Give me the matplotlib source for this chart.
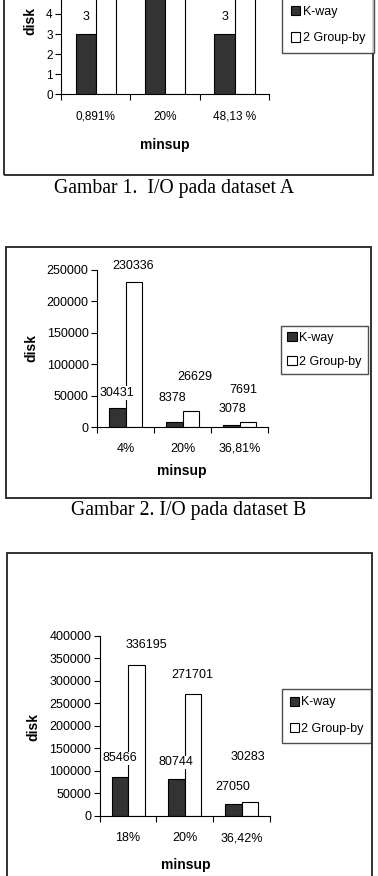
import matplotlib.pyplot as plt
from matplotlib.patches import Rectangle, Patch

plt.rcParams['font.family'] = ['Liberation Sans', 'DejaVu Sans']

# data
series = ['K-way', '2 Group-by']

cats_a = ['0,891%', '20%', '48,13 %']
kway_a = [3, 5, 3]
group_a = [6, 6, 6]          # tops are cut off in the scan

cats_b = ['4%', '20%', '36,81%']
kway_b = [30431, 8378, 3078]
group_b = [230336, 26629, 7691]

cats_c = ['18%', '20%', '36,42%']
kway_c = [85466, 80744, 27050]
group_c = [336195, 271701, 30283]

W, H = 378, 876
fig = plt.figure(figsize=(W / 100, H / 100), dpi=100)


def px_axes(left, top, right, bottom):
    return fig.add_axes([left / W, 1 - bottom / H, (right - left) / W, (bottom - top) / H])


def fx(x):
    return x / W


def fy(y):
    return 1 - y / H


def box(left, top, right, bottom):
    fig.patches.append(Rectangle((fx(left), fy(bottom)), fx(right - left), (bottom - top) / H,
                                 transform=fig.transFigure, fill=False, ec='#222222', lw=1.3))


def draw_chart(ax, cats, kway, group, ymax, step, tick_fs, xpad, offs_k, offs_g, label_bg):
    x = range(len(cats))
    w = 0.29
    bk = ax.bar([i - w / 2 for i in x], kway, w, color='#333333', edgecolor='black', lw=0.8, zorder=2)
    bg = ax.bar([i + w / 2 for i in x], group, w, color='white', edgecolor='black', lw=0.8, zorder=2)
    for bars, vals, offs in ((bk, kway, offs_k), (bg, group, offs_g)):
        for b, v, (dx, dy) in zip(bars, vals, offs):
            kw = {}
            if label_bg:
                kw['bbox'] = dict(facecolor='white', edgecolor='none', pad=0.5)
            # labels of bars that run past the top of the axes are skipped (cut off in the scan)
            ax.annotate(str(v), (b.get_x() + b.get_width() / 2, v), xytext=(dx, dy),
                        textcoords='offset pixels', ha='center', va='center',
                        fontsize=9, zorder=3, annotation_clip=True, **kw)
    ax.set_xlim(-0.5, len(cats) - 0.5)
    ax.set_ylim(0, ymax)
    ax.set_yticks(range(0, int(ymax) + 1, step))
    ax.set_xticks(list(x))
    ax.set_xticklabels(cats, fontsize=tick_fs)
    ax.set_xticks([i - 0.5 for i in range(len(cats) + 1)], minor=True)
    ax.tick_params(axis='x', which='major', length=0, pad=xpad)
    ax.tick_params(axis='x', which='minor', length=4, width=0.8, direction='out')
    ax.tick_params(axis='y', length=4, width=0.8, pad=2, labelsize=tick_fs)
    for s in ('top', 'right'):
        ax.spines[s].set_visible(False)
    for s in ('left', 'bottom'):
        ax.spines[s].set_linewidth(0.8)
    ax.set_facecolor('none')


def legend(left, top, spacing, bpad=0.45):
    handles = [Patch(facecolor='#333333', edgecolor='black', lw=0.8),
               Patch(facecolor='white', edgecolor='black', lw=0.8)]
    lg = fig.legend(handles, series, loc='upper left', bbox_to_anchor=(fx(left), fy(top)),
                    fontsize=9, frameon=True, fancybox=False, handlelength=0.75, handleheight=0.75,
                    handletextpad=0.2, labelspacing=spacing, borderpad=bpad, borderaxespad=0)
    lg.get_frame().set_edgecolor('#222222')
    lg.get_frame().set_linewidth(1.0)


# chart 1 (top part cut off)
ax1 = px_axes(61, 94.3 - 4.9 * 20.08, 269.3, 94.3)
draw_chart(ax1, cats_a, kway_a, group_a, 4.9, 1, 8.5, 12,
           [(0, 17), (0, 17), (0, 17)], [(0, 17), (0, 17), (0, 17)], False)
box(4, -10, 373, 175)
legend(282, -3, 1.17, 0.7)
fig.text(fx(30), fy(21), 'disk', rotation=90, ha='center', va='center', fontsize=10, fontweight='bold')
fig.text(fx(165), fy(145), 'minsup', ha='center', va='center', fontsize=10, fontweight='bold')
fig.text(fx(174), fy(188), 'Gambar 1.  I/O pada dataset A', ha='center', va='center',
         fontsize=14.2, family='Liberation Serif')

# chart 2
ax2 = px_axes(97, 270, 268, 427.3)
draw_chart(ax2, cats_b, kway_b, group_b, 250000, 50000, 9, 11,
           [(0, 15), (-2, 24), (1, 16)], [(-1, 16), (4, 34), (-4, 32)], True)
box(6, 247, 371, 498)
legend(281, 326, 0.95, 0.5)
fig.text(fx(31), fy(348), 'disk', rotation=90, ha='center', va='center', fontsize=10, fontweight='bold')
fig.text(fx(182), fy(471), 'minsup', ha='center', va='center', fontsize=10, fontweight='bold')
fig.text(fx(188.5), fy(510), 'Gambar 2. I/O pada dataset B', ha='center', va='center',
         fontsize=14.2, family='Liberation Serif')

# chart 3 (bottom part cut off)
ax3 = px_axes(99.7, 636, 270, 815.7)
draw_chart(ax3, cats_c, kway_c, group_c, 400000, 50000, 9, 12,
           [(0, 19), (-1, 17), (-1, 17)], [(10, 20), (-1, 19), (-2, 45)], True)
box(7, 553, 372, 890)
legend(282, 689, 1.17, 0.6)
fig.text(fx(33), fy(727), 'disk', rotation=90, ha='center', va='center', fontsize=10, fontweight='bold')
fig.text(fx(186), fy(865), 'minsup', ha='center', va='center', fontsize=10, fontweight='bold')

fig.savefig('out.png', dpi=100)
